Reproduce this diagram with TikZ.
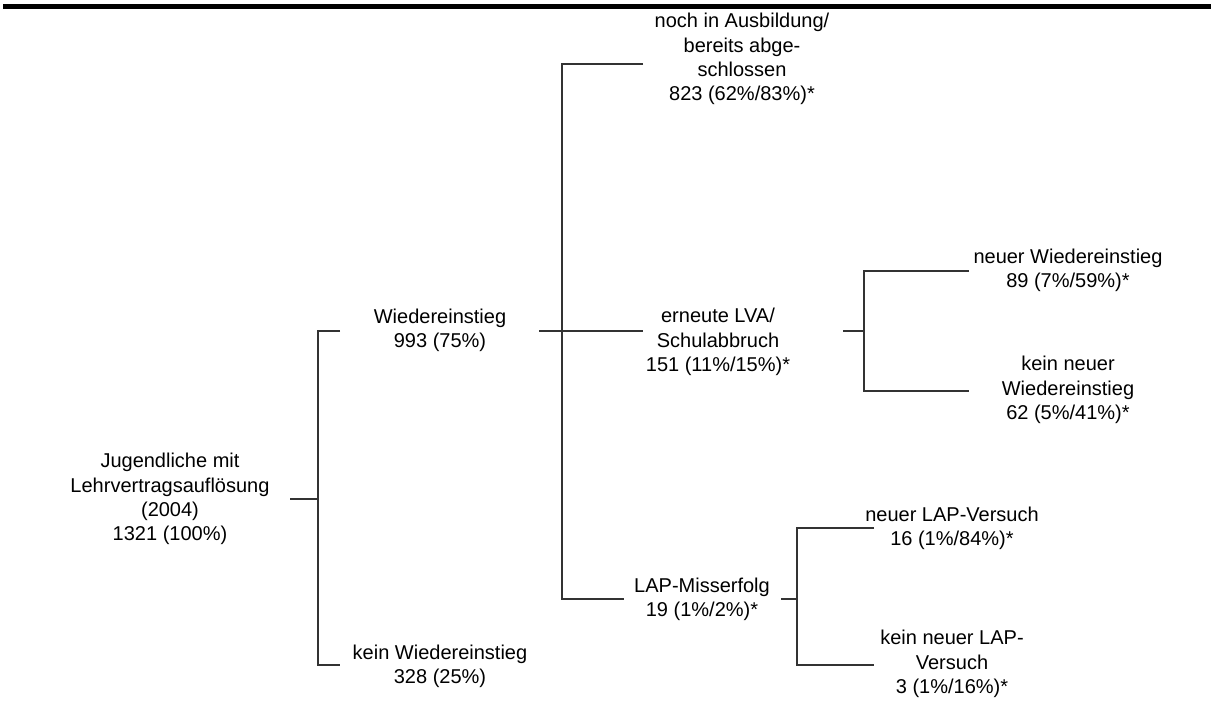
\documentclass[tikz,border=0pt]{standalone}
\usepackage{fontspec}
\setmainfont{Liberation Sans}
\begin{document}
\begin{tikzpicture}[x=1pt,y=-1pt,
  lbl/.style={align=center,inner sep=0pt,font=\fontsize{20}{24.3}\selectfont},
  conn/.style={draw=black!80,line width=1.6pt}]
\useasboundingbox (0,0) rectangle (1211,702);
\fill[black] (3,4) rectangle (1211,9);
% text nodes
\node[lbl] (root) at (170,499) {Jugendliche mit\\Lehrvertragsauflösung\\(2004)\\1321 (100\%)};
\node[lbl] (wied) at (440,330) {Wiedereinstieg\\993 (75\%)};
\node[lbl] (kein) at (440,666) {kein Wiedereinstieg\\328 (25\%)};
\node[lbl] (noch) at (742,59) {noch in Ausbildung/\\bereits abge-\\schlossen\\823 (62\%/83\%)*};
\node[lbl] (ern) at (718,342) {erneute LVA/\\Schulabbruch\\151 (11\%/15\%)*};
\node[lbl] (lap) at (702,599) {LAP-Misserfolg\\19 (1\%/2\%)*};
\node[lbl] (nw) at (1068,270) {neuer Wiedereinstieg\\89 (7\%/59\%)*};
\node[lbl] (kw) at (1068,390) {kein neuer\\Wiedereinstieg\\62 (5\%/41\%)*};
\node[lbl] (nl) at (952,528) {neuer LAP-Versuch\\16 (1\%/84\%)*};
\node[lbl] (kl) at (952,664) {kein neuer LAP-\\Versuch\\3 (1\%/16\%)*};
% connector coordinates
\coordinate (r-out) at (290,499);
\coordinate (r-j) at (318,499);
\coordinate (w-in) at (340,331);
\coordinate (k-in) at (340,665);
\coordinate (w-out) at (539,331);
\coordinate (w-j) at (562,331);
\coordinate (n-in) at (643,64);
\coordinate (e-in) at (643,331);
\coordinate (l-in) at (624,599);
\coordinate (e-out) at (843,331);
\coordinate (e-j) at (864,331);
\coordinate (nw-in) at (969,271);
\coordinate (kw-in) at (969,391);
\coordinate (l-out) at (781,599);
\coordinate (l-j) at (797,599);
\coordinate (nl-in) at (874,528);
\coordinate (kl-in) at (874,665);
% connectors
\draw[conn] (r-out) -- (r-j);
\draw[conn] (w-in) -| (r-j) |- (k-in);
\draw[conn] (w-out) -- (w-j) -- (e-in);
\draw[conn] (n-in) -| (w-j) |- (l-in);
\draw[conn] (e-out) -- (e-j);
\draw[conn] (nw-in) -| (e-j) |- (kw-in);
\draw[conn] (l-out) -- (l-j);
\draw[conn] (nl-in) -| (l-j) |- (kl-in);
\end{tikzpicture}
\end{document}
